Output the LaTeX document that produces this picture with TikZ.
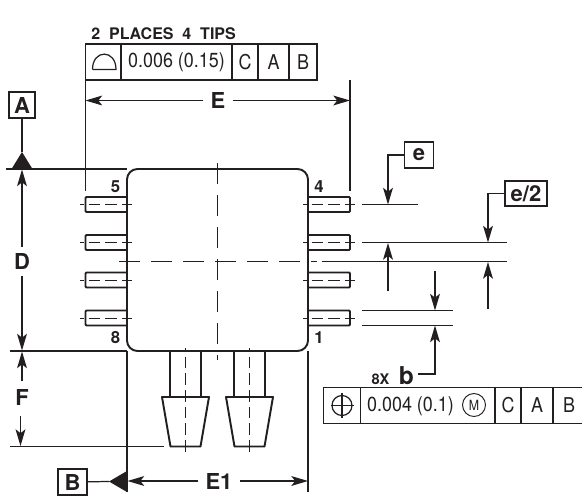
\documentclass[tikz,border=0pt]{standalone}
\usepackage{fontspec}
\setmainfont{TeX Gyre Heros}
\newfontfamily\fcffont[FakeStretch=0.88]{TeX Gyre Heros}
\usetikzlibrary{arrows.meta}
\definecolor{ink}{HTML}{231F20}
\tikzset{
    >={Stealth[length=9.5pt,width=5.6pt,inset=2.2pt]},
    thin line/.style={line width=0.7pt, color=ink},
    body line/.style={line width=1.1pt, color=ink},
    center line/.style={line width=0.6pt, color=ink, dash pattern=on 12.2pt off 6pt},
    pin line/.style={line width=0.55pt, color=ink, dash pattern=on 6.6pt off 2.9pt, dash phase=4.6pt},
    dim label/.style={font=\fontsize{12.5}{13}\bfseries, text=ink, inner sep=0pt},
    pin label/.style={font=\fontsize{9.5}{10}\bfseries, text=ink, inner sep=0pt},
    datum/.style={draw=ink, line width=0.7pt, fill=white, inner sep=0pt, font=\fontsize{12.5}{13}\bfseries, text=ink, minimum height=0.52cm},
    cell/.style={draw=ink, line width=0.7pt, inner sep=0pt, font=\fcffont\fontsize{11.6}{12}\selectfont, text=ink, minimum height=0.72cm},
}
\begin{document}
\begin{tikzpicture}[x=0.02cm, y=-0.02cm]
    \useasboundingbox (0, 0) rectangle (582, 497);
    % top frame
    \node [pin label, font=\fontsize{9.1}{10}\bfseries, anchor=west] (tips) at (91, 33.5) {2\ \ PLACES\ \ 4\ \ TIPS};
    \node [cell, minimum width=0.71cm] (p0) at (103.3, 62) {};
    \node [cell, minimum width=2.22cm] (p1) at (176.5, 62) {0.006 (0.15)};
    \node [cell, minimum width=0.52cm] (p2) at (245, 62) {C};
    \node [cell, minimum width=0.62cm] (p3) at (273.5, 62) {A};
    \node [cell, minimum width=0.56cm] (p4) at (303, 62) {B};
    \draw [thin line] (92.5, 69.5) to (116, 69.5) .. controls (116, 49) and (92.5, 49) .. (92.5, 69.5);
    % E
    \node [dim label, fill=white, inner xsep=4pt] (E) at (218, 100.5) {E};
    \coordinate (eL) at (85.5, 100.5);
    \coordinate (eR) at (350, 100.5);
    \draw [thin line, ->] (E) to (eL);
    \draw [thin line, ->] (E) to (eR);
    \draw [thin line] (85.5, 80) to (85.5, 191);
    \draw [thin line] (350, 80) to (350, 191);
    % datum A and D
    \node [datum, minimum width=0.52cm] (A) at (22, 105) {A};
    \coordinate (aTip) at (22, 152);
    \draw [thin line] (A) to (aTip);
    \fill [ink] (22, 152) -- (32.5, 169) -- (11.5, 169) -- cycle;
    \draw [thin line] (6, 169) to (127, 169);
    \node [dim label] (D) at (22, 261) {D};
    \coordinate (dT) at (22, 169.5);
    \coordinate (dB) at (22, 350.5);
    \draw [thin line, ->] (22, 247) to (dT);
    \draw [thin line, ->] (22, 276) to (dB);
    % leads
    \foreach \y in {204.5, 242.5, 280, 318} {
        \draw [body line, rounded corners=0.6pt] (127, \y-7.5) -- (85.5, \y-7.5) -- (85.5, \y+7.5) -- (127, \y+7.5);
        \draw [body line, rounded corners=0.6pt] (308, \y-7.5) -- (350, \y-7.5) -- (350, \y+7.5) -- (308, \y+7.5);
        \draw [pin line] (80, \y) to (132, \y);
        \draw [pin line] (303, \y) to (355, \y);
    }
    % body
    \draw [body line, rounded corners=6pt] (127, 169) rectangle (308, 351);
    \node [pin label] (5) at (115.5, 187) {5};
    \node [pin label] (4) at (319, 187) {4};
    \node [pin label] (8) at (115.5, 338) {8};
    \node [pin label] (1) at (319, 338) {1};
    \draw [center line] (217.5, 163) to (217.5, 360);
    \draw [center line] (119, 261.5) to (317, 261.5);
    % ports
    \foreach \x in {185.5, 249.5} {
        \draw [body line] (\x-15.5, 351) to (\x-15.5, 397);
        \draw [body line] (\x+15.5, 351) to (\x+15.5, 397);
        \draw [body line, line join=round] (\x-23.5, 397) -- (\x+23.5, 397) -- (\x+15, 446.5) -- (\x-15, 446.5) -- cycle;
        \draw [pin line] (\x, 348) to (\x, 455);
    }
    % F
    \draw [thin line] (10, 351) to (127, 351);
    \draw [thin line] (10, 446.5) to (164, 446.5);
    \node [dim label] (F) at (22, 397) {F};
    \coordinate (fT) at (22, 351.5);
    \coordinate (fB) at (20.5, 446);
    \draw [thin line, ->] (22, 381) to (fT);
    \draw [thin line, ->] (20.5, 416) to (fB);
    % datum B and E1
    \draw [thin line] (127, 351) to (127, 492);
    \draw [thin line] (308, 351) to (308, 492);
    \node [datum, minimum width=0.58cm] (B) at (72.5, 482) {B};
    \coordinate (bTip) at (109, 481.5);
    \draw [thin line] (B) to (bTip);
    \fill [ink] (109, 481.5) -- (127, 471) -- (127, 492) -- cycle;
    \node [dim label, fill=white, inner xsep=4pt] (E1) at (219, 481) {E1};
    \coordinate (e1L) at (127.5, 481);
    \coordinate (e1R) at (308, 481);
    \draw [thin line, ->] (E1) to (e1L);
    \draw [thin line, ->] (E1) to (e1R);
    % right hand dimensions
    \draw [thin line] (362, 204.5) to (418, 204.5);
    \draw [thin line] (362, 242.5) to (507, 242.5);
    \draw [thin line] (321.5, 261.5) to (507, 261.5);
    \draw [thin line] (362, 310.5) to (453, 310.5);
    \draw [thin line] (362, 325.5) to (453, 325.5);
    \node [datum, minimum width=0.57cm] (e) at (419, 155) {e};
    \coordinate (eTip) at (388, 204.5);
    \draw [thin line, ->] (e.west) -- (388, 155) to (eTip);
    \node [datum, minimum width=0.84cm, minimum height=0.5cm] (e2) at (526, 193.5) {e/2};
    \coordinate (e2Tip) at (488, 242.5);
    \draw [thin line, ->] (e2.west) -- (488, 193.5) to (e2Tip);
    \coordinate (eUp) at (388, 243);
    \draw [thin line, ->] (388, 291) to (eUp);
    \coordinate (e2Up) at (488, 262);
    \draw [thin line, ->] (488, 309) to (e2Up);
    \coordinate (bDown) at (435, 310.5);
    \draw [thin line, ->] (435, 271) to (bDown);
    % b and lower frame
    \node [pin label, font=\fontsize{8.3}{10}\bfseries] (8x) at (380.5, 379) {8X};
    \node [dim label, font=\fontsize{14}{15}\bfseries] (b) at (406.5, 376) {b};
    \coordinate (bUp) at (435, 325.5);
    \draw [thin line, ->] (418, 374) -- (435, 374) to (bUp);
    \node [cell, minimum width=0.75cm] (q0) at (342, 405.5) {};
    \node [cell, minimum width=2.69cm] (q1) at (427.5, 405.5) {};
    \node [cell, minimum width=0.52cm] (q2) at (508, 405.5) {C};
    \node [cell, minimum width=0.64cm] (q3) at (537, 405.5) {A};
    \node [cell, minimum width=0.64cm] (q4) at (569, 405.5) {B};
    \node [font=\fcffont\fontsize{11.6}{12}\selectfont, text=ink, inner sep=0pt] (tol) at (410.5, 406.5) {0.004 (0.1)};
    \node [draw=ink, line width=0.55pt, circle, minimum size=0.46cm, inner sep=0pt, font=\fcffont\fontsize{8}{9}\selectfont, text=ink] (M) at (474, 405) {M};
    \draw [thin line] (342, 405.5) circle (10);
    \draw [thin line] (331, 405.5) to (354, 405.5);
    \draw [thin line] (342, 393) to (342, 418);
\end{tikzpicture}
\end{document}
